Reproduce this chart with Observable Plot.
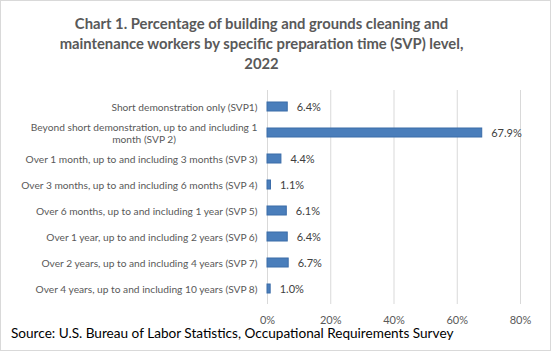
<!DOCTYPE html>
<html>
<head>
<meta charset="utf-8">
<script src="https://cdn.jsdelivr.net/npm/d3@7"></script>
<script src="https://cdn.jsdelivr.net/npm/@observablehq/plot@0.6"></script>
<style>
  html, body { margin: 0; padding: 0; background: #fff; }
  #frame {
    position: relative; width: 549px; height: 349px;
    border: 1px solid #d9d9d9; background: #fff; overflow: hidden;
    font-family: Lato, "Open Sans", sans-serif;
  }
  #title {
    position: absolute; left: -14px; top: 12px; width: 549px;
    text-align: center; font-weight: bold; font-size: 14.8px; line-height: 20px;
    color: #595959;
  }
  #chart { position: absolute; left: 0; top: 79px; }
  #source {
    position: absolute; left: 10px; top: 324px;
    font-size: 13.6px; color: #000; white-space: nowrap;
  }
</style>
</head>
<body>
<div id="frame">
  <div id="title">Chart 1. Percentage of building and grounds cleaning and<br>maintenance workers by specific preparation time (SVP) level,<br>2022</div>
  <div id="chart"></div>
  <div id="source">Source: U.S. Bureau of Labor Statistics, Occupational Requirements Survey</div>
</div>
<script>
const categories = [
  "Short demonstration only (SVP1)",
  "Beyond short demonstration, up to and including 1\nmonth (SVP 2)",
  "Over 1 month, up to and including 3 months (SVP 3)",
  "Over 3 months, up to and including 6 months (SVP 4)",
  "Over 6 months, up to and including 1 year (SVP 5)",
  "Over 1 year, up to and including 2 years (SVP 6)",
  "Over 2 years, up to and including 4 years (SVP 7)",
  "Over 4 years, up to and including 10 years (SVP 8)"
];
const values = [6.4, 67.9, 4.4, 1.1, 6.1, 6.4, 6.7, 1.0];
const xTicks = [0, 20, 40, 60, 80];

const data = categories.map((c, i) => ({category: c, value: values[i]}));

const plot = Plot.plot({
  width: 549,
  height: 248,
  marginLeft: 266,
  marginRight: 30,
  marginTop: 10,
  marginBottom: 24,
  style: {fontFamily: "Lato, 'Open Sans', sans-serif", fontSize: "10px", color: "#595959", background: "transparent"},
  x: {domain: [0, 80], ticks: xTicks, tickFormat: d => d + "%"},
  y: {domain: categories, paddingInner: 0.66, paddingOuter: 0.33, align: 0.5},
  marks: [
    Plot.gridX(xTicks.filter(t => t > 0), {stroke: "#d9d9d9", strokeOpacity: 1}),
    Plot.ruleX([0], {stroke: "#d9d9d9"}),
    Plot.axisX({ticks: xTicks, tickSize: 0, tickPadding: 12, tickFormat: d => d + "%", fill: "#595959", fontSize: 11, label: null}),
    Plot.axisY({tickSize: 0, tickPadding: 10, fill: "#595959", fontSize: 10.2, label: null, lineHeight: 1.2}),
    Plot.barX(data, {y: "category", x: "value", fill: "#4A7EBB", stroke: "#3B6CA8", strokeWidth: 1}),
    Plot.text(data, {y: "category", x: "value", text: d => d.value.toFixed(1) + "%", textAnchor: "start", dx: 9, fill: "#404040", fontSize: 11})
  ]
});
document.getElementById("chart").appendChild(plot);

// Center multi-line y-axis labels on their widest line, as the original does
const yAxis = plot.querySelector("g[aria-label='y-axis tick label']");
if (yAxis) {
  yAxis.querySelectorAll("text").forEach(t => {
    if (t.querySelectorAll("tspan").length > 1) {
      const w = t.getBBox().width;
      t.setAttribute("text-anchor", "middle");
      const tr = t.getAttribute("transform") || "";
      t.setAttribute("transform", tr + ` translate(${-w / 2},0)`);
    }
  });
}
</script>
</body>
</html>
